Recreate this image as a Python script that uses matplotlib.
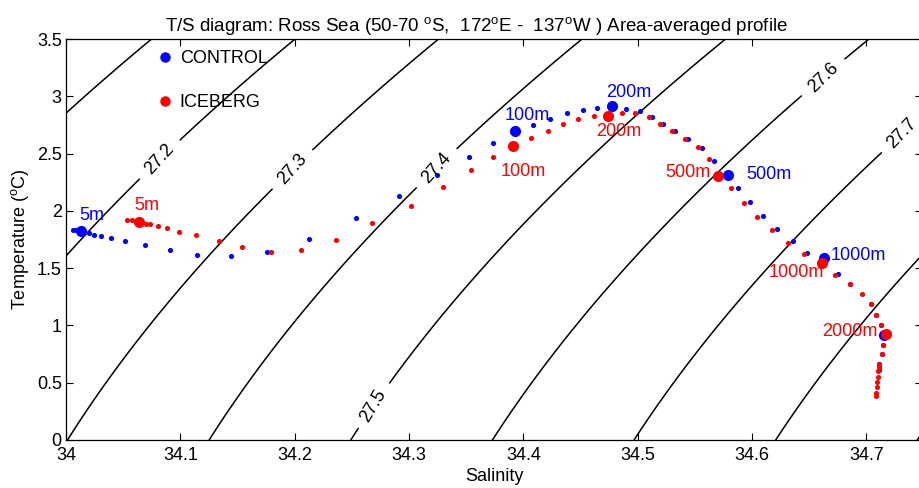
import numpy as np
import matplotlib.pyplot as plt
from matplotlib.lines import Line2D
from matplotlib.ticker import FormatStrFormatter

plt.rcParams['font.family'] = ['Liberation Sans', 'DejaVu Sans']
plt.rcParams['mathtext.fontset'] = 'custom'
plt.rcParams['mathtext.rm'] = 'Liberation Sans'

# CONTROL profile (salinity, potential temperature), surface to bottom
ctrl_S = [34.0059, 34.0087, 34.0204, 34.0245, 34.0308, 34.0390, 34.0515, 34.0687,
          34.0911, 34.1148, 34.1441, 34.1762, 34.2128, 34.2533, 34.2914, 34.3246,
          34.3526, 34.3738, 34.4087, 34.4233, 34.4384, 34.4518, 34.4644, 34.4897,
          34.5024, 34.5127, 34.5223, 34.5328, 34.5441, 34.5566, 34.5666, 34.5873,
          34.5985, 34.6096, 34.6218, 34.6356, 34.6480, 34.6748, 34.6856, 34.7037,
          34.7086, 34.7127, 34.7147, 34.7133, 34.7109, 34.7109]
ctrl_T = [1.833, 1.833, 1.807, 1.792, 1.781, 1.763, 1.737, 1.705,
          1.658, 1.619, 1.603, 1.641, 1.752, 1.940, 2.134, 2.317,
          2.474, 2.590, 2.747, 2.802, 2.852, 2.878, 2.900, 2.892,
          2.874, 2.819, 2.758, 2.697, 2.627, 2.546, 2.438, 2.197,
          2.075, 1.958, 1.842, 1.735, 1.634, 1.446, 1.359, 1.187,
          1.089, 1.004, 0.829, 0.751, 0.664, 0.611]

# ICEBERG profile
ice_S = [34.0530, 34.0574, 34.0699, 34.0734, 34.0801, 34.0880, 34.0990, 34.1140,
         34.1336, 34.1540, 34.1790, 34.2059, 34.2364, 34.2680, 34.3013, 34.3300,
         34.3540, 34.3738, 34.4063, 34.4212, 34.4350, 34.4480, 34.4620, 34.4862,
         34.4978, 34.5100, 34.5197, 34.5300, 34.5415, 34.5526, 34.5622, 34.5820,
         34.5928, 34.6047, 34.6175, 34.6313, 34.6452, 34.6727, 34.6853, 34.6958,
         34.7037, 34.7086, 34.7127, 34.7147, 34.7133, 34.7109, 34.7109, 34.7103,
         34.7098, 34.7092, 34.7089, 34.7080, 34.7080]
ice_T = [1.924, 1.917, 1.889, 1.883, 1.868, 1.853, 1.818, 1.785,
         1.733, 1.684, 1.640, 1.654, 1.746, 1.890, 2.045, 2.211,
         2.354, 2.466, 2.635, 2.698, 2.758, 2.799, 2.832, 2.855,
         2.850, 2.819, 2.758, 2.697, 2.627, 2.554, 2.449, 2.197,
         2.071, 1.949, 1.835, 1.723, 1.621, 1.444, 1.359, 1.271,
         1.187, 1.089, 1.004, 0.829, 0.751, 0.664, 0.638, 0.603,
         0.551, 0.507, 0.463, 0.408, 0.385]

# labelled depth levels
depths = ['5m', '100m', '200m', '500m', '1000m', '2000m']
ctrl_key_S = [34.0128, 34.3926, 34.4775, 34.5793, 34.6633, 34.7153]
ctrl_key_T = [1.824, 2.695, 2.913, 2.311, 1.591, 0.917]
ice_key_S = [34.0635, 34.3908, 34.4740, 34.5700, 34.6614, 34.7170]
ice_key_T = [1.900, 2.563, 2.832, 2.303, 1.547, 0.925]

# isopycnal levels (sigma-theta) and where their labels sit
sigma_levels = [27.0, 27.1, 27.2, 27.3, 27.4, 27.5, 27.6, 27.7, 27.8, 27.9]
label_pos = [(34.073, 2.52), (34.202, 2.33), (34.327, 2.35),
             (34.273, 0.28), (34.666, 3.13), (34.733, 2.66)]


def sigma0(S, T):
    # UNESCO 1980 equation of state at the surface
    rw = (999.842594 + 6.793952e-2*T - 9.095290e-3*T**2 + 1.001685e-4*T**3
          - 1.120083e-6*T**4 + 6.536332e-9*T**5)
    a = 0.824493 - 4.0899e-3*T + 7.6438e-5*T**2 - 8.2467e-7*T**3 + 5.3875e-9*T**4
    b = -5.72466e-3 + 1.0227e-4*T - 1.6546e-6*T**2
    return rw + a*S + b*S**1.5 + 4.8314e-4*S**2 - 1000.0


fig = plt.figure(figsize=(9.19, 4.88), dpi=100)
ax = fig.add_axes([66/919, 48/488, 856/919, 401/488])

sg, tg = np.meshgrid(np.linspace(33.9, 34.85, 300), np.linspace(-0.2, 3.7, 300))
cs = ax.contour(sg, tg, sigma0(sg, tg), levels=sigma_levels, colors='k', linewidths=1.1)
ax.clabel(cs, fontsize=13, fmt='%g', manual=label_pos, inline=True, inline_spacing=6)

ax.plot(ctrl_S, ctrl_T, 'o', color='b', ms=3.7, mec='none')
ax.plot(ice_S, ice_T, 'o', color='r', ms=3.7, mec='none')
ax.plot(ctrl_key_S, ctrl_key_T, 'o', color='b', ms=8, mec='none')
ax.plot(ice_key_S, ice_key_T, 'o', color='r', ms=8, mec='none')

fs = 13
ctrl_off = [(11, 16, 'center'), (12, 16, 'center'), (17, 14, 'center'),
            (18, 1, 'left'), (6, 2, 'left'), None]
ice_off = [(8, 17, 'center'), (10, -25, 'center'), (11, -16, 'center'),
           (-7, 4, 'right'), (-26, -10, 'center'), (-8, 3, 'right')]
for d, s, t, o in zip(depths, ctrl_key_S, ctrl_key_T, ctrl_off):
    if o:
        ax.annotate(d, (s, t), xytext=o[:2], textcoords='offset pixels',
                    ha=o[2], va='center', color='b', fontsize=fs)
for d, s, t, o in zip(depths, ice_key_S, ice_key_T, ice_off):
    ax.annotate(d, (s, t), xytext=o[:2], textcoords='offset pixels',
                ha=o[2], va='center', color='r', fontsize=fs)

handles = [Line2D([], [], marker='o', ls='none', color='b', ms=6.5),
           Line2D([], [], marker='o', ls='none', color='r', ms=6.5)]
ax.legend(handles, ['CONTROL', 'ICEBERG'], loc='upper left', frameon=False,
          bbox_to_anchor=(0.0865, 1.013), fontsize=fs, labelspacing=1.5,
          handletextpad=0.3, handlelength=1.0)

ax.set_xlim(34, 34.7486)
ax.set_ylim(0, 3.5)
ax.set_xticks(np.arange(34, 34.71, 0.1))
ax.set_yticks(np.arange(0, 3.51, 0.5))
ax.xaxis.set_major_formatter(FormatStrFormatter('%g'))
ax.yaxis.set_major_formatter(FormatStrFormatter('%g'))
ax.tick_params(direction='in', top=True, right=True, length=5, labelsize=fs)
ax.tick_params(axis='x', pad=5)
ax.tick_params(axis='y', pad=3)
for sp in ax.spines.values():
    sp.set_linewidth(0.9)

ax.set_xlabel('Salinity', fontsize=fs, labelpad=3)
ax.set_ylabel(r'Temperature ($^{\rm o}$C)', fontsize=fs, labelpad=4)
ax.set_title(r'T/S diagram: Ross Sea (50-70 $^{\rm o}$S,  172$^{\rm o}$E -  137$^{\rm o}$W ) Area-averaged profile',
             fontsize=13.5, pad=5, x=0.48)

fig.savefig('out.png', dpi=100)
